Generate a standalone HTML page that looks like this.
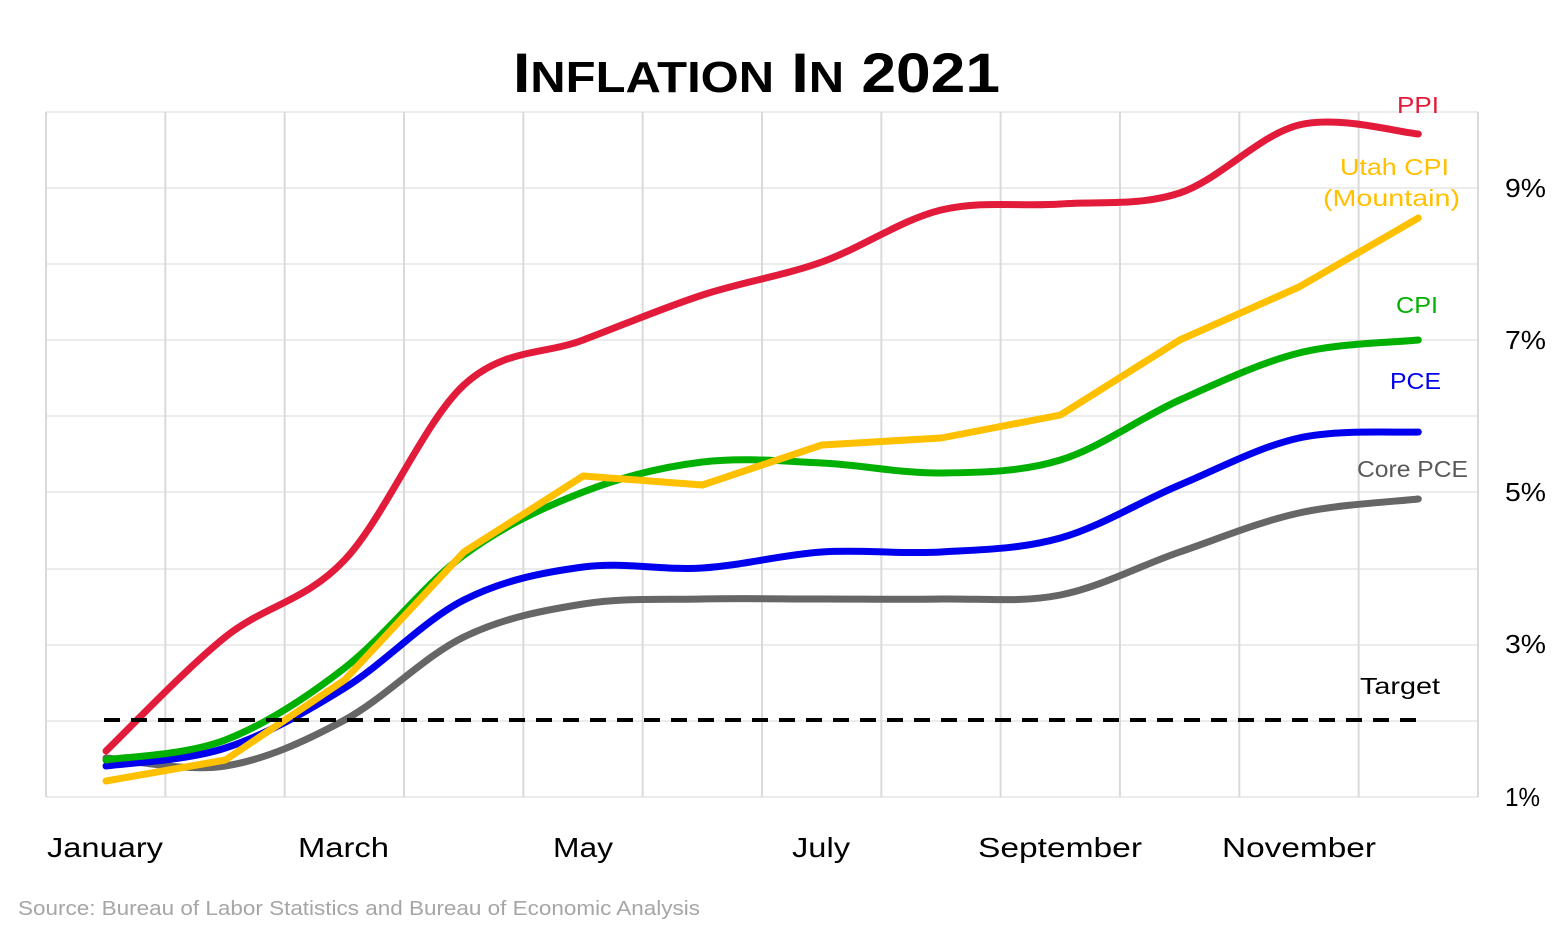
<!DOCTYPE html>
<html><head><meta charset="utf-8"><style>
body{margin:0;background:#fff;}
svg{display:block;font-family:"Liberation Sans",sans-serif;}
</style></head><body>
<svg id="s" width="1564" height="929" viewBox="0 0 1564 929" xmlns="http://www.w3.org/2000/svg">
<rect width="1564" height="929" fill="#fff"/>
<g id="grid"></g>
<text x="513" y="92" textLength="487" lengthAdjust="spacingAndGlyphs" font-size="56" font-weight="bold" fill="#000">I<tspan font-size="44">NFLATION</tspan> I<tspan font-size="44">N</tspan> 2021</text>
<g id="lines" fill="none" stroke-linecap="round" stroke-linejoin="round"></g>
<line x1="104" y1="720" x2="1419" y2="720" stroke="#000" stroke-width="4" stroke-dasharray="16,11"/>
<g font-size="23">
<text x="1397" y="113" textLength="42" lengthAdjust="spacingAndGlyphs" fill="#e31b3a">PPI</text>
<text x="1340" y="175" textLength="109" lengthAdjust="spacingAndGlyphs" fill="#ffc000">Utah CPI</text>
<text x="1323" y="206" textLength="137" lengthAdjust="spacingAndGlyphs" fill="#ffc000">(Mountain)</text>
<text x="1396" y="313" textLength="42" lengthAdjust="spacingAndGlyphs" fill="#00b000">CPI</text>
<text x="1390" y="389" textLength="51" lengthAdjust="spacingAndGlyphs" fill="#0000ee">PCE</text>
<text x="1357" y="477" textLength="111" lengthAdjust="spacingAndGlyphs" fill="#5a5a5a">Core PCE</text>
<text x="1360" y="694" textLength="80" lengthAdjust="spacingAndGlyphs" fill="#000">Target</text>
</g>
<g font-size="26" fill="#000">
<text x="1505" y="197" textLength="41" lengthAdjust="spacingAndGlyphs">9%</text><text x="1505" y="349" textLength="41" lengthAdjust="spacingAndGlyphs">7%</text><text x="1505" y="501" textLength="41" lengthAdjust="spacingAndGlyphs">5%</text><text x="1505" y="653" textLength="41" lengthAdjust="spacingAndGlyphs">3%</text><text x="1505" y="806" textLength="35" lengthAdjust="spacingAndGlyphs">1%</text>
</g>
<g font-size="28" fill="#000">
<text x="47" y="857" textLength="116" lengthAdjust="spacingAndGlyphs">January</text><text x="298" y="857" textLength="91" lengthAdjust="spacingAndGlyphs">March</text><text x="553" y="857" textLength="60" lengthAdjust="spacingAndGlyphs">May</text><text x="792" y="857" textLength="58" lengthAdjust="spacingAndGlyphs">July</text><text x="978" y="857" textLength="164" lengthAdjust="spacingAndGlyphs">September</text><text x="1222" y="857" textLength="154" lengthAdjust="spacingAndGlyphs">November</text>
</g>
<text x="18" y="915" font-size="20" textLength="682" lengthAdjust="spacingAndGlyphs" fill="#a6a6a6">Source: Bureau of Labor Statistics and Bureau of Economic Analysis</text>
</svg>
<script>
var ns="http://www.w3.org/2000/svg",g=document.getElementById('grid'),L=document.getElementById('lines');
function el(p,t,a){var e=document.createElementNS(ns,t);for(var k in a)e.setAttribute(k,a[k]);p.appendChild(e);return e;}
[112,188,264,340,416,492,569,645,721,797].forEach(function(y){el(g,'line',{x1:46,x2:1478,y1:y,y2:y,stroke:'#ececec','stroke-width':2});});
for(var i=0;i<=12;i++){var x=46+i*119.33;el(g,'line',{x1:x,x2:x,y1:112,y2:797,stroke:'#dadada','stroke-width':2});}
var X=[];for(i=0;i<12;i++)X.push(106+i*119.3);
function smooth(Y){var d='M'+X[0]+','+Y[0];for(var i=0;i<Y.length-1;i++){var x0=X[Math.max(i-1,0)],y0=Y[Math.max(i-1,0)],x3=X[Math.min(i+2,11)],y3=Y[Math.min(i+2,11)];
var c1x=X[i]+(X[i+1]-x0)/6,c1y=Y[i]+(Y[i+1]-y0)/6,c2x=X[i+1]-(x3-X[i])/6,c2y=Y[i+1]-(y3-Y[i])/6;d+=' C'+c1x+','+c1y+' '+c2x+','+c2y+' '+X[i+1]+','+Y[i+1];}return d;}
function lin(Y){return 'M'+X.map(function(x,i){return x+','+Y[i];}).join(' L');}
var S=[
['#666',smooth([758,766,720,637,604,599,599,599,595,552,513,499])],
['#0000ee',smooth([766,748,688,600,567,568,552,552,538,485,438,432])],
['#00b000',smooth([760,740,668,555,492,462,463,473,460,400,353,340])],
['#ffc000',lin([781,760,680,552,476,485,445,438,415,340,287,218])],
['#e31b3a',smooth([751,637,560,385,340,295,262,210,204,193,125,134])]];
S.forEach(function(s){el(L,'path',{d:s[1],stroke:s[0],'stroke-width':7});});
</script>
</body></html>
